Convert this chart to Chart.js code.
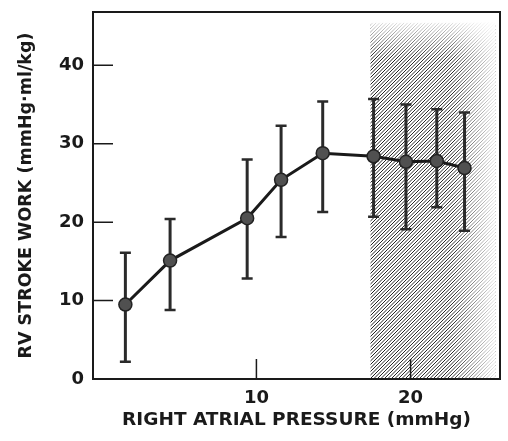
<!DOCTYPE html>
<html>
<head>
<meta charset="utf-8">
<script src="https://cdn.jsdelivr.net/npm/chart.js@4"></script>
<style>
  html, body { margin: 0; padding: 0; background: #fff; }
  #wrap { width: 508px; height: 441px; }
</style>
</head>
<body>
<div id="wrap"><canvas id="chart" width="508" height="441"></canvas></div>
<script>
// values
const pressure = [1.5, 4.4, 9.4, 11.6, 14.3, 17.6, 19.7, 21.7, 23.5];
const strokeWork = [9.5, 15.1, 20.5, 25.4, 28.8, 28.4, 27.7, 27.8, 26.9];
const errHigh = [16.1, 20.4, 28.0, 32.3, 35.4, 35.7, 35.0, 34.4, 34.0];
const errLow = [2.2, 8.8, 12.8, 18.1, 21.3, 20.7, 19.1, 21.9, 18.9];
const xTicks = [10, 20];
const yTicks = [0, 10, 20, 30, 40];
const shadedFrom = 17.4;
const shadedTo = 25.5;
const shadedTop = 45.4;

const INK = "#1a1a1a";
const FONT = "'DejaVu Sans', 'Liberation Sans', Arial, sans-serif";

// diagonal hatch used for the shaded zone (lines every 3.5px)
function makeHatch() {
  const c = document.createElement("canvas");
  c.width = 7;
  c.height = 7;
  const g = c.getContext("2d");
  g.strokeStyle = "#222";
  g.lineWidth = 1.0;
  g.beginPath();
  [0, 3.5, 7, 10.5, 14].forEach((k) => {
    g.moveTo(k + 1, -1);
    g.lineTo(k - 8, 8);
  });
  g.stroke();
  return c;
}

const shadedZone = {
  id: "shadedZone",
  beforeDatasetsDraw(chart) {
    const { ctx, scales: { x, y } } = chart;
    const x0 = x.getPixelForValue(shadedFrom);
    const x1 = x.getPixelForValue(shadedTo);
    const y0 = y.getPixelForValue(shadedTop);
    const y1 = y.getPixelForValue(0);
    ctx.save();
    ctx.fillStyle = ctx.createPattern(makeHatch(), "repeat");
    ctx.fillRect(x0, y0, x1 - x0, y1 - y0);
    // fade out toward the right and the top, like the original print
    const gx = ctx.createLinearGradient(x0, 0, x1, 0);
    gx.addColorStop(0, "rgba(255,255,255,0)");
    gx.addColorStop(0.65, "rgba(255,255,255,0.05)");
    gx.addColorStop(1, "rgba(255,255,255,0.9)");
    ctx.fillStyle = gx;
    ctx.fillRect(x0, y0, x1 - x0, y1 - y0);
    const gy = ctx.createLinearGradient(0, y0, 0, y0 + 35);
    gy.addColorStop(0, "rgba(255,255,255,0.85)");
    gy.addColorStop(1, "rgba(255,255,255,0)");
    ctx.fillStyle = gy;
    ctx.fillRect(x0, y0, x1 - x0, 35);
    ctx.restore();
  },
};

const errorBars = {
  id: "errorBars",
  beforeDatasetsDraw(chart) {
    const { ctx, scales: { x, y } } = chart;
    ctx.save();
    ctx.strokeStyle = "#2a2a2a";
    pressure.forEach((p, i) => {
      const px = x.getPixelForValue(p);
      const top = y.getPixelForValue(errHigh[i]);
      const bot = y.getPixelForValue(errLow[i]);
      ctx.lineWidth = 3;
      ctx.beginPath();
      ctx.moveTo(px, top);
      ctx.lineTo(px, bot);
      ctx.stroke();
      ctx.lineWidth = 2.5;
      ctx.beginPath();
      ctx.moveTo(px - 5.5, top);
      ctx.lineTo(px + 5.5, top);
      ctx.moveTo(px - 5.5, bot);
      ctx.lineTo(px + 5.5, bot);
      ctx.stroke();
    });
    ctx.restore();
  },
};

// box frame and inward tick marks
const frame = {
  id: "frame",
  afterDraw(chart) {
    const { ctx, chartArea: a, scales: { x, y } } = chart;
    ctx.save();
    ctx.strokeStyle = INK;
    ctx.lineWidth = 1.5;
    ctx.beginPath();
    xTicks.forEach((v) => {
      const px = x.getPixelForValue(v);
      ctx.moveTo(px, a.bottom);
      ctx.lineTo(px, a.bottom - 20);
    });
    yTicks.forEach((v) => {
      const py = y.getPixelForValue(v);
      ctx.moveTo(a.left, py);
      ctx.lineTo(a.left + 20, py);
    });
    ctx.stroke();
    ctx.lineWidth = 2;
    ctx.strokeRect(a.left, a.top, a.right - a.left, a.bottom - a.top);
    ctx.restore();
  },
};

new Chart(document.getElementById("chart"), {
  type: "scatter",
  data: {
    datasets: [
      {
        data: pressure.map((p, i) => ({ x: p, y: strokeWork[i] })),
        showLine: true,
        borderColor: INK,
        borderWidth: 3,
        pointRadius: 6.5,
        pointBackgroundColor: "#505050",
        pointBorderColor: "#222",
        pointBorderWidth: 1.5,
      },
    ],
  },
  options: {
    responsive: false,
    animation: false,
    layout: { padding: { top: 12, right: 3, left: 0, bottom: 0 } },
    plugins: { legend: { display: false }, tooltip: { enabled: false } },
    scales: {
      x: {
        type: "linear",
        min: -0.6,
        max: 25.8,
        afterBuildTicks: (s) => { s.ticks = xTicks.map((v) => ({ value: v })); },
        afterFit: (s) => {
          s.height = 62;
          s.paddingLeft = 0;
          s.paddingRight = 0;
        },
        grid: { display: false, drawTicks: false },
        border: { display: false },
        ticks: { color: INK, padding: 9, font: { family: FONT, size: 18, weight: "bold" } },
        title: {
          display: true,
          text: "RIGHT ATRIAL PRESSURE (mmHg)",
          color: INK,
          padding: { bottom: 10 },
          font: { family: FONT, size: 18.5, weight: "bold" },
        },
      },
      y: {
        min: 0,
        max: 46.8,
        afterBuildTicks: (s) => { s.ticks = yTicks.map((v) => ({ value: v })); },
        afterFit: (s) => {
          s.width = 93;
          s.paddingTop = 0;
          s.paddingBottom = 0;
        },
        grid: { display: false, drawTicks: false },
        border: { display: false },
        ticks: { color: INK, padding: 9, font: { family: FONT, size: 18, weight: "bold" } },
        title: {
          display: true,
          text: "RV STROKE WORK (mmHg·ml/kg)",
          color: INK,
          padding: { top: 16 },
          font: { family: FONT, size: 17.5, weight: "bold" },
        },
      },
    },
  },
  plugins: [shadedZone, errorBars, frame],
});
</script>
</body>
</html>
